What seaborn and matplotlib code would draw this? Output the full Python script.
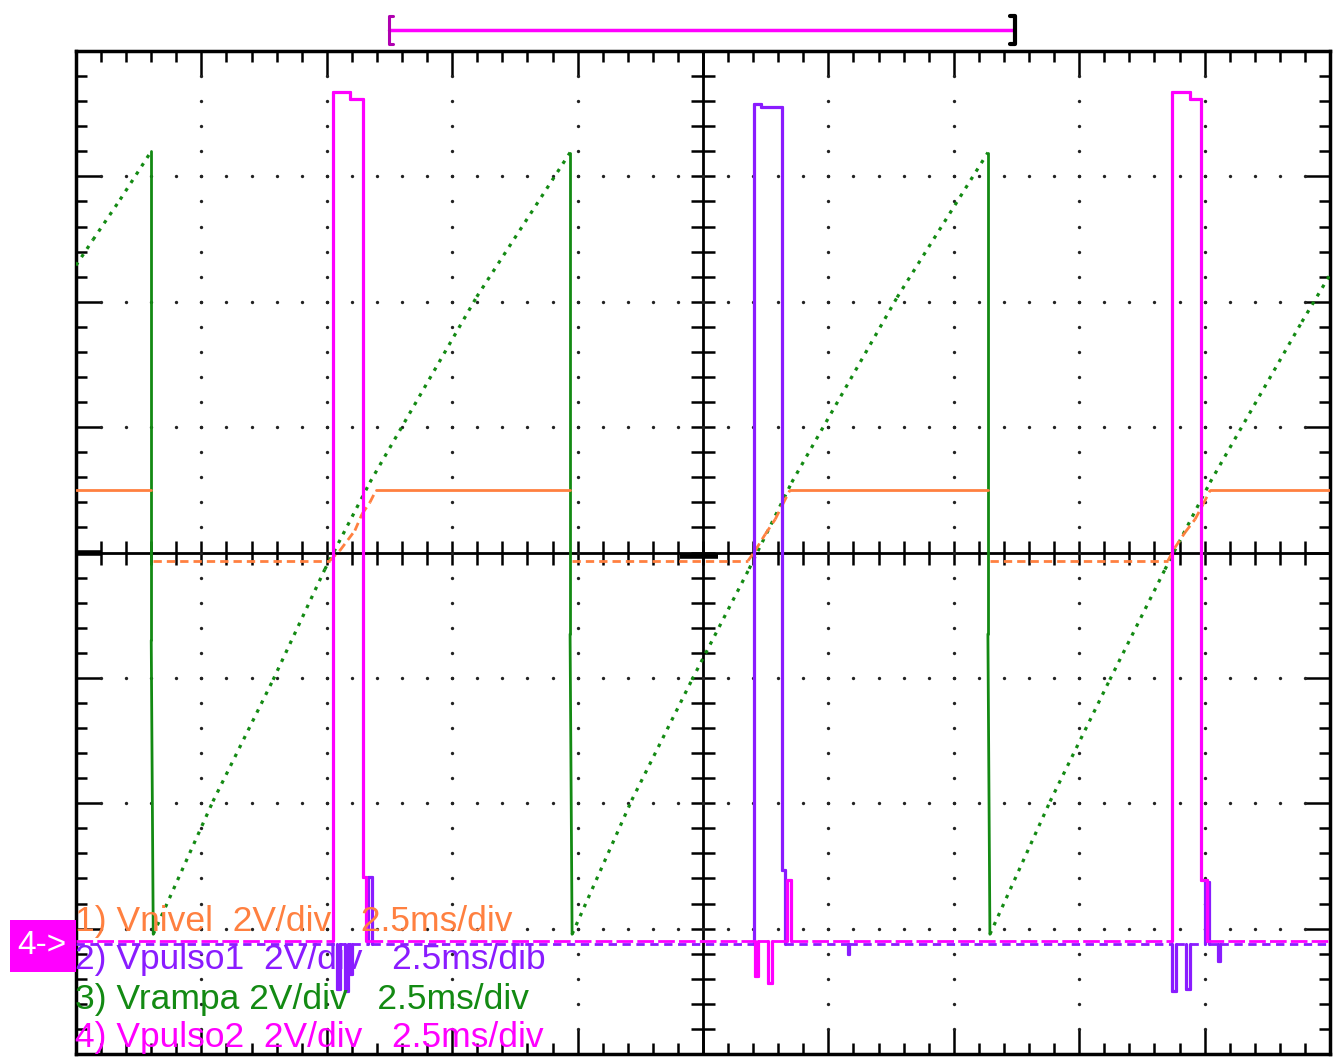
import numpy as np
import pandas as pd
import matplotlib
matplotlib.use("Agg")
import matplotlib.pyplot as plt
from matplotlib.lines import Line2D
from matplotlib.patches import Rectangle
import seaborn as sns

# Screen: 10 div x 2.5 ms horizontally, 8 div x 2 V vertically (per-channel offsets)
T_SPAN = 25.0
V_HALF = 8.0

# Channel 3: Vrampa (sawtooth ramp, reset every half mains cycle)
ramp_t = [0.00, 0.34, 0.88, 1.50, 1.50, 1.54, 2.73, 3.93, 4.96, 5.86, 7.99, 9.85,
          9.85, 9.89, 11.08, 12.28, 13.42, 14.27, 16.37, 18.18,
          18.18, 18.22, 19.42, 20.61, 21.71, 22.61, 24.44, 25.00]
ramp_v = [4.58, 4.99, 5.63, 6.40, -1.40, -6.09, -3.97, -2.03, -0.27, 1.12, 4.08, 6.38,
          -1.30, -6.09, -3.95, -2.03, -0.26, 1.12, 4.07, 6.38,
          -1.30, -6.09, -3.97, -2.03, -0.27, 1.12, 3.68, 4.43]

# Channel 1: Vnivel (comparator level)
level_t = [0.00, 1.50, 1.53, 5.06, 5.26, 5.56, 5.70, 5.86, 5.98, 9.85,
           9.89, 13.40, 13.54, 13.74, 13.94, 14.09, 14.23, 18.18,
           18.22, 21.77, 21.91, 22.11, 22.31, 22.47, 22.61, 25.00]
level_v = [0.99, 0.99, -0.13, -0.13, 0.03, 0.35, 0.61, 0.80, 0.99, 0.99,
           -0.13, -0.13, 0.03, 0.29, 0.53, 0.77, 0.99, 0.99,
           -0.13, -0.13, 0.08, 0.32, 0.53, 0.77, 0.99, 0.99]
LEVEL_HIGH = 0.99

# Channel 2: Vpulso1 (gate pulse, first half-cycle)
p1_t = [0.00, 5.20, 5.20, 5.26, 5.26, 5.36, 5.36, 5.42, 5.42, 5.46, 5.46, 5.50, 5.50,
        5.82, 5.82, 5.90, 5.90,
        13.52, 13.52, 13.66, 13.66, 14.07, 14.07, 14.13, 14.13,
        15.39, 15.39, 15.42, 15.42,
        21.85, 21.85, 21.93, 21.93, 22.13, 22.13, 22.21, 22.21,
        22.51, 22.51, 22.59, 22.59, 22.77, 22.77, 22.80, 22.80, 25.00]
p1_v = [-6.25, -6.25, -6.97, -6.97, -6.25, -6.25, -7.00, -7.00, -6.25, -6.25, -6.73, -6.73, -6.25,
        -6.25, -5.18, -5.18, -6.25,
        -6.25, 7.15, 7.15, 7.10, 7.10, -5.06, -5.06, -6.25,
        -6.25, -6.41, -6.41, -6.25,
        -6.25, -7.00, -7.00, -6.25, -6.25, -6.97, -6.97, -6.25,
        -6.25, -5.25, -5.25, -6.25, -6.25, -6.52, -6.52, -6.25, -6.25]
P1_BASE = -6.25

# Channel 4: Vpulso2 (gate pulse, second half-cycle)
p2_t = [0.00, 5.12, 5.12, 5.46, 5.46, 5.72, 5.72, 5.78, 5.78,
        13.54, 13.54, 13.60, 13.60, 13.80, 13.80, 13.88, 13.88, 14.17, 14.17, 14.25, 14.25,
        21.85, 21.85, 22.21, 22.21, 22.43, 22.43, 22.55, 22.55, 25.00]
p2_v = [-6.19, -6.19, 7.35, 7.35, 7.24, 7.24, -5.18, -5.18, -6.19,
        -6.19, -6.76, -6.76, -6.19, -6.19, -6.87, -6.87, -6.19, -6.19, -5.22, -5.22, -6.19,
        -6.19, 7.34, 7.34, 7.24, 7.24, -5.22, -5.22, -6.19, -6.19]
P2_BASE = -6.19

labels = ["1) Vnivel  2V/div   2.5ms/div",
          "2) Vpulso1  2V/div   2.5ms/dib",
          "3) Vrampa 2V/div   2.5ms/div",
          "4) Vpulso2  2V/div   2.5ms/div"]

C_LEVEL = "#ff8040"
C_P1 = "#8a1cff"
C_RAMP = "#138a13"
C_P2 = "#ff00ff"

sns.set_theme(style="white")
plt.rcParams["font.family"] = ["Liberation Sans", "DejaVu Sans"]

W, H = 1338, 1057
fig = plt.figure(figsize=(W / 100, H / 100), dpi=100)
fig.patch.set_facecolor("white")


def fx(px):
    return px / W


def fy(py):
    return 1 - py / H


ax = fig.add_axes([fx(76), fy(1054), fx(1330) - fx(76), fy(51) - fy(1054)])
ax.set_facecolor("white")
ax.set_xlim(0, T_SPAN)
ax.set_ylim(-V_HALF, V_HALF)

# frame and graticule
for s in ax.spines.values():
    s.set_visible(True)
    s.set_color("black")
    s.set_linewidth(2.5)
ax.set_xticks(np.arange(0, T_SPAN + 0.01, 2.5))
ax.set_yticks(np.arange(-V_HALF, V_HALF + 0.01, 2))
ax.set_xticks(np.arange(0, T_SPAN + 0.01, 0.5), minor=True)
ax.set_yticks(np.arange(-V_HALF, V_HALF + 0.01, 0.4), minor=True)
ax.tick_params(which="both", direction="in", top=True, right=True, bottom=True, left=True,
               labelbottom=False, labelleft=False, color="black")
ax.tick_params(which="major", length=18, width=1.8)
ax.tick_params(which="minor", length=8, width=1.8)

mid_t = T_SPAN / 2
ax.axhline(0, color="black", lw=2.0, zorder=1)
ax.axvline(mid_t, color="black", lw=2.0, zorder=1)
minor_t = np.arange(0.5, T_SPAN, 0.5)
minor_v = np.arange(-V_HALF + 0.4, V_HALF - 0.01, 0.4)
ax.plot(minor_t, np.zeros_like(minor_t), ls="none", marker="|", ms=17, mew=1.8,
        color="black", zorder=1)
ax.plot(np.full_like(minor_v, mid_t), minor_v, ls="none", marker="_", ms=17, mew=1.8,
        color="black", zorder=1)
ax.plot([0, 0.5], [0, 0], color="black", lw=4, solid_capstyle="butt", zorder=1)
ax.plot([12.05, 12.8], [-0.05, -0.05], color="black", lw=4, solid_capstyle="butt", zorder=1)

dot_kw = dict(ls="none", marker="o", ms=2.4, mew=0, color="#222222", zorder=1)
for gt in np.arange(2.5, T_SPAN - 0.01, 2.5):
    if abs(gt - mid_t) > 1e-6:
        ax.plot(np.full_like(minor_v, gt), minor_v, **dot_kw)
for gv in np.arange(-6, 6.01, 2):
    if abs(gv) > 1e-6:
        ax.plot(minor_t, np.full_like(minor_t, gv), **dot_kw)


def segment_frame(t, v, keep):
    rows = []
    for i in range(len(t) - 1):
        if keep(i):
            rows.append((i, t[i], v[i]))
            rows.append((i, t[i + 1], v[i + 1]))
    return pd.DataFrame(rows, columns=["seg", "t", "v"])


def draw(t, v, keep, color, lw, ls, z):
    df = segment_frame(t, v, keep)
    if len(df):
        sns.lineplot(data=df, x="t", y="v", units="seg", estimator=None, sort=False,
                     color=color, lw=lw, linestyle=ls, ax=ax, legend=False, zorder=z)


# Vrampa: sampled rising ramp, solid reset edges
draw(ramp_t, ramp_v, lambda i: ramp_v[i + 1] >= ramp_v[i], C_RAMP, 2.3, (0, (1.1, 2.0)), 3)
draw(ramp_t, ramp_v, lambda i: ramp_v[i + 1] < ramp_v[i], C_RAMP, 2.0, "-", 3)

# Vnivel: solid at the high level, noisy dashes elsewhere, no trace on the drop
hi = lambda i: level_v[i] >= LEVEL_HIGH and level_v[i + 1] >= LEVEL_HIGH
drop = lambda i: level_v[i] >= LEVEL_HIGH and level_v[i + 1] < LEVEL_HIGH
draw(level_t, level_v, hi, C_LEVEL, 2.0, "-", 4)
draw(level_t, level_v, lambda i: not hi(i) and not drop(i), C_LEVEL, 2.0, (0, (3, 1.8)), 4)

# Vpulso1 and Vpulso2: dashed resting level, solid pulses and glitches
base1 = lambda i: p1_v[i] == P1_BASE and p1_v[i + 1] == P1_BASE
draw(p1_t, p1_v, base1, C_P1, 2.0, (0, (3, 2)), 5)
draw(p1_t, p1_v, lambda i: not base1(i), C_P1, 2.3, "-", 5)
base2 = lambda i: p2_v[i] == P2_BASE and p2_v[i + 1] == P2_BASE
draw(p2_t, p2_v, base2, C_P2, 2.0, (0, (6, 1.5)), 6)
draw(p2_t, p2_v, lambda i: not base2(i), C_P2, 2.3, "-", 6)

ax.set_xlabel("")
ax.set_ylabel("")

# channel captions
for k, (txt, col) in enumerate(zip(labels, [C_LEVEL, C_P1, C_RAMP, C_P2])):
    fig.text(fx(75), fy(921 + 39 * k), txt, color=col, fontsize=25.5,
             ha="left", va="center", zorder=10)

# channel 4 ground marker
fig.patches.append(Rectangle((fx(10), fy(972)), fx(76) - fx(10), fy(920) - fy(972),
                             transform=fig.transFigure, facecolor="#ff00ff",
                             edgecolor="none", zorder=5))
fig.text(fx(42), fy(945), "4->", color="white", fontsize=24, ha="center", va="center",
         zorder=11)

# acquisition window bar above the screen
fig.add_artist(Line2D([fx(389), fx(1014)], [fy(30), fy(30)], color="#ff00ff", lw=2.5))
fig.add_artist(Line2D([fx(393), fx(389), fx(389), fx(393)], [fy(16), fy(16), fy(44), fy(44)],
                      color="#b000b0", lw=2.2))
fig.add_artist(Line2D([fx(1010), fx(1015), fx(1015), fx(1010)], [fy(16), fy(16), fy(44), fy(44)],
                      color="black", lw=3))

fig.savefig("out.png", dpi=100, facecolor="white")
